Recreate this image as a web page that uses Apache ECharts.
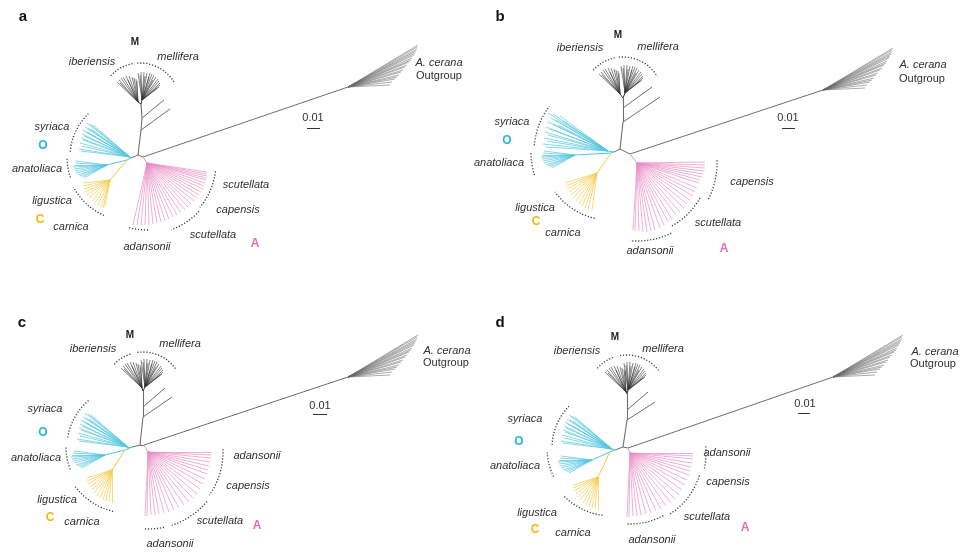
<!DOCTYPE html>
<html><head><meta charset="utf-8">
<script src="https://cdn.jsdelivr.net/npm/echarts@6/dist/echarts.min.js"></script>
<style>html,body{margin:0;padding:0;background:#fff}#c{width:961px;height:556px}</style>
</head><body><div id="c"></div>
<script>
// ---------- DATA (panel-local units; index 0..3 = panels a,b,c,d) ----------
const panelLetters = ['a','b','c','d'];
const hubM     = [[138,155],[140,149],[140,167],[143,169]];
const hubL     = [[131,158],[134,152],[132,169],[135,172]];
const hubR     = [[143,157],[150,154],[144,167],[148,170]];
const sideLoBase = [[141,130],[143,122],[143,139],[147,142]];
const sideLoTip  = [[170,109],[180,97],[172,119],[175,124]];
const sideHiBase = [[142,118],[143,108],[143,129],[147,132]];
const sideHiTip  = [[164,100],[172,87],[165,110],[168,114]];
const mRoot    = [[141,104],[143,98],[143,113],[147,116]];
const ibRoot   = [[138,102],[140,94],[142,110],[146,114]];
const melRoot  = [[142,100],[145,93],[145,109],[148,112]];
const syrRoot  = [[130,157],[128,151],[128,169],[132,171]];
const junction = [[127,160],[131,153],[125,172],[130,174]];
const anaRoot  = [[107,165],[95,155],[105,177],[112,182]];
const ligRoot  = [[110,180],[117,173],[112,192],[118,199]];
const adaRoot  = [[147,163],[157,163],[148,174],[150,175]];
const outRoot  = [[348,87],[343,90],[348,99],[353,99]];

// tip offsets from clade roots
const ibTips  = [[-21,-20],[-19,-22],[-17,-24],[-15,-25],[-12,-26],[-9,-26],[-6,-25],[-4,-24],[-2,-23],[-1,-21],[-18,-19],[-10,-22]];
const melTips = [[-4,-27],[-1,-28],[2,-28],[5,-27],[8,-27],[10,-26],[12,-25],[14,-23],[16,-21],[17,-19],[18,-17],[18,-15],[17,-13],[15,-12],[-2,-25],[3,-24],[7,-23],[11,-20]];
const syrTips = [[-43,-34],[-40,-33],[-37,-32],[-45,-30],[-42,-29],[-39,-28],[-47,-27],[-44,-25],[-41,-24],[-48,-23],[-46,-21],[-49,-19],[-47,-17],[-50,-14],[-48,-11],[-51,-8],[-49,-6]];
const syrTipsB = [[-60,-38],[-55,-37],[-48,-35],[-57,-33],[-52,-31],[-45,-30],[-60,-29],[-55,-27],[-50,-26],[-62,-24],[-58,-22],[-63,-19],[-60,-16],[-64,-13],[-61,-10],[-65,-7],[-62,-4]];
const anaTips = [[-31,-4],[-32,-2],[-33,0],[-34,2],[-33,4],[-32,6],[-31,8],[-29,10],[-27,11],[-25,12],[-23,13]];
const ligTipsA = [[-27,3],[-27,6],[-26,9],[-25,12],[-23,15],[-21,18],[-18,21],[-15,23],[-12,25],[-9,27],[-7,28],[-5,26]];
const ligTipsB = [[-32,10],[-31,13],[-30,16],[-28,19],[-26,22],[-24,25],[-21,28],[-18,31],[-15,33],[-12,35],[-9,36],[-5,37]];
const ligTipsCD = [[-25,8],[-25,11],[-24,14],[-22,17],[-20,20],[-18,23],[-15,26],[-12,28],[-9,30],[-6,31],[-3,32],[0,33]];
const adaTipsA = [[60,9],[60,11],[60,13],[59,15],[59,17],[58,20],[57,23],[56,26],[54,29],[52,32],[50,35],[47,38],[44,41],[41,44],[38,47],[34,50],[30,52],[26,54],[22,56],[18,58],[14,59],[10,60],[6,61],[2,62],[-2,62],[-6,62],[-10,62],[-14,62]];
const adaTipsB = [[68,-1],[68,2],[68,5],[67,8],[66,11],[65,14],[63,17],[62,20],[60,25],[58,29],[56,33],[53,37],[50,41],[47,45],[43,49],[39,52],[35,56],[31,59],[27,62],[23,65],[18,67],[14,68],[10,69],[6,69],[2,68],[-2,68],[-4,67]];
const adaTipsCD = [[63,0],[63,3],[63,6],[62,10],[61,14],[60,18],[59,22],[57,27],[55,32],[52,37],[49,42],[45,46],[41,50],[36,53],[31,56],[26,58],[21,60],[16,61],[11,62],[7,63],[3,63],[-1,64],[-3,64]];
const outTips = [[70,-42],[69,-40],[69,-38],[68,-36],[67,-34],[66,-32],[64,-29],[63,-27],[61,-25],[59,-22],[57,-20],[55,-17],[53,-15],[51,-12],[49,-10],[47,-8],[44,-5],[42,-2]];

const syrSets = [syrTips, syrTipsB, syrTips, syrTips];
const ligSets = [ligTipsA, ligTipsB, ligTipsCD, ligTipsCD];
const adaSets = [adaTipsA, adaTipsB, adaTipsCD, adaTipsCD];

// scale bars (0.01 units)
const scaleBars = [[[307,128],[320,128]],[[302,128],[315,128]],[[313,136],[327,136]],[[318,135],[330,135]]];

// dotted clade arcs: [cx, cy, r, startDeg, endDeg]
const arcsA = [[140,103,40,-137,-98],[140,103,40,-94,-32],[130,157,60,-175,-134],[130,157,63,161,180],[130,157,64,114,152],[147,163,69,7,40],[147,163,71,43,70],[147,163,67,89,107]];
const arcsB = [[143,97,40,-138,-101],[143,97,40,-96,-31],[130,152,76,-175,-143],[130,152,79,163,180],[130,152,68,103,144],[157,163,80,-2,27],[157,163,72,29,62],[157,163,78,64,95]];
const arcsC = [[143,114,40,-136,-106],[143,114,40,-98,-34],[128,169,61,-171,-129],[128,169,62,159,180],[128,169,66,103,143],[148,174,75,-2,35],[148,174,77,40,72],[148,174,77,78,93]];
const arcsD = [[147,117,40,-138,-110],[147,117,40,-100,-35],[132,170,60,-177,-136],[132,170,65,154,176],[132,170,68,98,135],[150,175,76,-5,12],[150,175,73,18,58],[150,175,71,62,93]];
const arcSets = [arcsA, arcsB, arcsC, arcsD];

// labels: [text, x, y, kind]
const labelsA = [['a',23,17,'tag'],['M',135,42,'M'],['iberiensis',92,62,'it'],['mellifera',178,57,'it'],['A. cerana',439,63,'it'],['Outgroup',439,76,'pl'],['0.01',313,118,'pl'],['syriaca',52,127,'it'],['O',43,146,'O'],['anatoliaca',37,169,'it'],['ligustica',52,201,'it'],['C',40,220,'C'],['carnica',71,227,'it'],['adansonii',147,247,'it'],['scutellata',246,185,'it'],['capensis',238,210,'it'],['scutellata',213,235,'it'],['A',255,244,'A']];
const labelsB = [['b',20,17,'tag'],['M',138,35,'M'],['iberiensis',100,48,'it'],['mellifera',178,47,'it'],['A. cerana',443,65,'it'],['Outgroup',442,79,'pl'],['0.01',308,118,'pl'],['syriaca',32,122,'it'],['O',27,141,'O'],['anatoliaca',19,163,'it'],['ligustica',55,208,'it'],['C',56,222,'C'],['carnica',83,233,'it'],['capensis',272,182,'it'],['scutellata',238,223,'it'],['adansonii',170,251,'it'],['A',244,249,'A']];
const labelsC = [['c',22,45,'tag'],['M',130,57,'M'],['iberiensis',93,71,'it'],['mellifera',180,66,'it'],['A. cerana',447,73,'it'],['Outgroup',446,85,'pl'],['0.01',320,128,'pl'],['syriaca',45,131,'it'],['O',43,155,'O'],['anatoliaca',36,180,'it'],['ligustica',57,222,'it'],['C',50,240,'C'],['carnica',82,244,'it'],['adansonii',257,178,'it'],['capensis',248,208,'it'],['scutellata',220,243,'it'],['A',257,248,'A'],['adansonii',170,266,'it']];
const labelsD = [['d',20,45,'tag'],['M',135,59,'M'],['iberiensis',97,73,'it'],['mellifera',183,71,'it'],['A. cerana',455,74,'it'],['Outgroup',453,86,'pl'],['0.01',325,126,'pl'],['syriaca',45,141,'it'],['O',39,164,'O'],['anatoliaca',35,188,'it'],['ligustica',57,235,'it'],['C',55,252,'C'],['carnica',93,255,'it'],['adansonii',247,175,'it'],['capensis',248,204,'it'],['scutellata',227,239,'it'],['A',265,250,'A'],['adansonii',172,262,'it']];
const labelSets = [labelsA, labelsB, labelsC, labelsD];

// ---------- STYLE / LAYOUT ----------
const COL = {M:'#333333', stem:'#6e6e6e', out:'#666', cyan:'#52c6de', yellow:'#f7c843', pink:'#ea8cc4'};
const FONT = "'Liberation Sans', Arial, sans-serif";
const textStyle = {
  it:  {fontStyle:'italic', fontWeight:'normal', fontSize:11, fill:'#2f2f2f'},
  pl:  {fontStyle:'normal', fontWeight:'normal', fontSize:11, fill:'#2f2f2f'},
  tag: {fontStyle:'normal', fontWeight:'bold', fontSize:15, fill:'#111'},
  M:   {fontStyle:'normal', fontWeight:'bold', fontSize:10, fill:'#222'},
  O:   {fontStyle:'normal', fontWeight:'bold', fontSize:12, fill:'#26b7d6'},
  C:   {fontStyle:'normal', fontWeight:'bold', fontSize:12, fill:'#f5b90a'},
  A:   {fontStyle:'normal', fontWeight:'bold', fontSize:12, fill:'#e36cb2'}
};
const gridPos = [[0,0],[480,0],[0,278],[480,278]];

const add = (r, d) => [r[0]+d[0], r[1]+d[1]];
const seg = (a, b, color, w) => ({coords:[a, b], lineStyle:{color:color, width:w, opacity:1}});

const grids=[], xAxes=[], yAxes=[], series=[];
for (let p = 0; p < 4; p++) {
  grids.push({left:gridPos[p][0], top:gridPos[p][1], width:480, height:278});
  xAxes.push({type:'value', gridIndex:p, min:0, max:480, show:false});
  yAxes.push({type:'value', gridIndex:p, min:0, max:278, inverse:true, show:false});

  const br = [];
  // fans
  ibTips.forEach(t => br.push(seg(ibRoot[p], add(ibRoot[p], t), COL.M, 0.6)));
  melTips.forEach(t => br.push(seg(melRoot[p], add(melRoot[p], t), COL.M, 0.6)));
  syrSets[p].forEach(t => br.push(seg(syrRoot[p], add(syrRoot[p], t), COL.cyan, 0.7)));
  anaTips.forEach(t => br.push(seg(anaRoot[p], add(anaRoot[p], t), COL.cyan, 0.7)));
  ligSets[p].forEach(t => br.push(seg(ligRoot[p], add(ligRoot[p], t), COL.yellow, 0.7)));
  adaSets[p].forEach(t => br.push(seg(adaRoot[p], add(adaRoot[p], t), COL.pink, 0.7)));
  outTips.forEach(t => br.push(seg(outRoot[p], add(outRoot[p], t), COL.out, 0.55)));
  // hub and stems
  br.push(seg(hubL[p], hubM[p], COL.stem, 1));
  br.push(seg(hubM[p], hubR[p], COL.stem, 1));
  br.push(seg(hubM[p], sideLoBase[p], COL.stem, 1.1));
  br.push(seg(sideLoBase[p], sideHiBase[p], COL.stem, 1.1));
  br.push(seg(sideHiBase[p], mRoot[p], COL.stem, 1.1));
  br.push(seg(sideLoBase[p], sideLoTip[p], COL.stem, 1));
  br.push(seg(sideHiBase[p], sideHiTip[p], COL.stem, 1));
  br.push(seg(mRoot[p], ibRoot[p], COL.M, 1));
  br.push(seg(mRoot[p], melRoot[p], COL.M, 1));
  br.push(seg(hubR[p], outRoot[p], COL.stem, 1));
  br.push(seg(hubR[p], adaRoot[p], COL.pink, 1));
  br.push(seg(hubL[p], syrRoot[p], COL.cyan, 1));
  br.push(seg(hubL[p], junction[p], COL.cyan, 1));
  br.push(seg(junction[p], anaRoot[p], COL.cyan, 1));
  br.push(seg(junction[p], ligRoot[p], COL.yellow, 1));
  // scale bar
  br.push(seg(scaleBars[p][0], scaleBars[p][1], '#333', 1));

  series.push({type:'lines', coordinateSystem:'cartesian2d', xAxisIndex:p, yAxisIndex:p,
    polyline:false, silent:true, animation:false, data:br});

  // dotted arcs
  series.push({type:'custom', xAxisIndex:p, yAxisIndex:p, silent:true, animation:false, clip:false,
    data: arcSets[p],
    renderItem: (params, api) => {
      const c = api.coord([api.value(0), api.value(1)]);
      const r = api.size([api.value(2), 0])[0];
      return {type:'arc', shape:{cx:c[0], cy:c[1], r:r,
        startAngle: api.value(3)*Math.PI/180, endAngle: api.value(4)*Math.PI/180, clockwise:true},
        style:{stroke:'#3a3a3a', fill:null, lineWidth:1.3, lineDash:[1.2,1.8]}};
    }});

  // text labels
  const labs = labelSets[p];
  series.push({type:'custom', xAxisIndex:p, yAxisIndex:p, silent:true, animation:false, clip:false,
    data: labs.map(l => [l[1], l[2]]),
    renderItem: (params, api) => {
      const l = labs[params.dataIndex];
      const c = api.coord([api.value(0), api.value(1)]);
      const s = textStyle[l[3]];
      return {type:'text', x:c[0], y:c[1], style:{text:l[0], fontFamily:FONT, fontSize:s.fontSize,
        fontStyle:s.fontStyle, fontWeight:s.fontWeight, fill:s.fill, align:'center', verticalAlign:'middle'}};
    }});
}

const chart = echarts.init(document.getElementById('c'), null, {renderer:'canvas'});
chart.setOption({animation:false, backgroundColor:'#fff', grid:grids, xAxis:xAxes, yAxis:yAxes, series:series});
</script></body></html>
